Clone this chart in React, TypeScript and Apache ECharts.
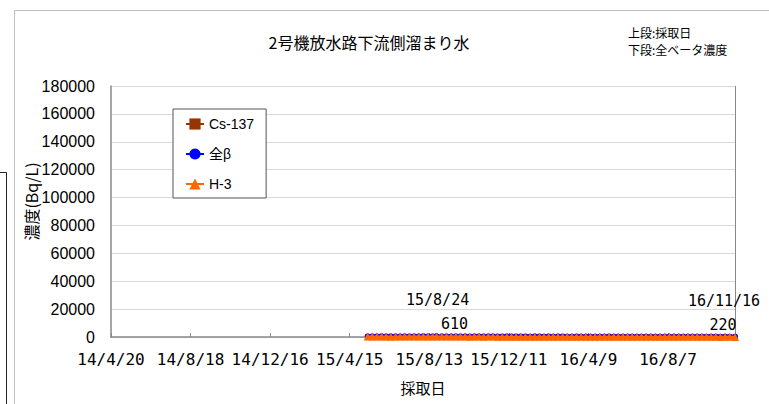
import React, { useEffect, useRef } from "react";
import * as echarts from "echarts";

const ORIGIN = "2014-04-20";
const X_MAX_DATE = "2016-11-16";
const X_INTERVAL_DAYS = 120;
const Y_MAX = 180000;
const Y_INTERVAL = 20000;

const seriesNames = ["Cs-137", "全β", "H-3"];
const seriesColors = ["#993300", "#0000FF", "#FF6600"];

const sampleDates = [
  "2015-05-12", "2015-05-19", "2015-05-26", "2015-06-02", "2015-06-09", "2015-06-16", "2015-06-23", "2015-06-30",
  "2015-07-07", "2015-07-14", "2015-07-21", "2015-07-28", "2015-08-04", "2015-08-11", "2015-08-18", "2015-08-24",
  "2015-09-01", "2015-09-08", "2015-09-15", "2015-09-22", "2015-09-29", "2015-10-06", "2015-10-13", "2015-10-20",
  "2015-10-27", "2015-11-03", "2015-11-10", "2015-11-17", "2015-11-24", "2015-12-01", "2015-12-08", "2015-12-15",
  "2015-12-22", "2015-12-29",
  "2016-01-05", "2016-01-12", "2016-01-19", "2016-01-26", "2016-02-02", "2016-02-09", "2016-02-16", "2016-02-23",
  "2016-03-01", "2016-03-08", "2016-03-15", "2016-03-22", "2016-03-29", "2016-04-05", "2016-04-12", "2016-04-19",
  "2016-04-26", "2016-05-03", "2016-05-10", "2016-05-17", "2016-05-24", "2016-05-31", "2016-06-07", "2016-06-14",
  "2016-06-21", "2016-06-28", "2016-07-05", "2016-07-12", "2016-07-19", "2016-07-26", "2016-08-02", "2016-08-09",
  "2016-08-16", "2016-08-23", "2016-08-30", "2016-09-06", "2016-09-13", "2016-09-20", "2016-09-27", "2016-10-04",
  "2016-10-11", "2016-10-18", "2016-10-25", "2016-11-01", "2016-11-08", "2016-11-16",
];

const cs137Values = [
  90, 110, 85, 120, 100, 75, 95, 130, 105, 115, 80, 125, 140, 135, 110, 150, 120, 95, 85, 100,
  110, 90, 70, 95, 85, 65, 80, 90, 70, 60, 75, 70, 55, 65,
  70, 55, 75, 60, 50, 65, 45, 55, 70, 50, 45, 60, 55, 40, 50, 45, 35, 45, 55, 40,
  35, 50, 45, 30, 40, 45, 35, 30, 40, 35, 30, 35, 28, 32, 38, 30, 25, 33, 28, 24, 30, 26, 22, 28, 25, 20,
];

const betaValues = [
  480, 520, 450, 560, 500, 430, 470, 540, 490, 510, 460, 530, 580, 550, 500, 610, 520, 470, 440, 490,
  510, 460, 420, 480, 450, 400, 430, 470, 410, 390, 440, 420, 380, 400,
  410, 370, 430, 390, 360, 400, 350, 380, 420, 360, 340, 390, 370, 330, 360, 350, 310, 340, 380, 320,
  300, 350, 330, 290, 310, 340, 300, 280, 320, 290, 270, 300, 260, 280, 310, 270, 250, 290, 260, 240,
  270, 250, 230, 260, 240, 220,
];

const h3Values = [
  300, 340, 280, 360, 320, 260, 300, 380, 330, 350, 290, 370, 400, 390, 340, 420, 360, 310, 280, 320,
  340, 300, 260, 310, 280, 250, 270, 300, 240, 230, 260, 250, 220, 240,
  250, 210, 260, 230, 200, 240, 190, 220, 250, 200, 180, 230, 210, 170, 200, 190, 160, 180, 220, 170,
  150, 190, 170, 140, 160, 180, 150, 130, 170, 140, 120, 150, 110, 130, 160, 120, 100, 140, 110, 90,
  120, 100, 80, 110, 90, 70,
];

const annotations = [
  { date: "2015-08-24", value: 610, dateLabel: "15/8/24", dateOffset: [1, -36], valueOffset: [18, -12] },
  { date: "2016-11-16", value: 220, dateLabel: "16/11/16", dateOffset: [-11, -36], valueOffset: [-12, -12] },
];

const noteLines = ["上段:採取日", "下段:全ベータ濃度"];

const DAY = 86400000;
const toUtc = (s: string) => {
  const [y, m, d] = s.split("-").map(Number);
  return Date.UTC(y, m - 1, d);
};
const dayOffset = (s: string) => Math.round((toUtc(s) - toUtc(ORIGIN)) / DAY);
const fmtDay = (v: number) => {
  const dt = new Date(toUtc(ORIGIN) + v * DAY);
  return `${String(dt.getUTCFullYear()).slice(2)}/${dt.getUTCMonth() + 1}/${dt.getUTCDate()}`;
};

const valueSets = [cs137Values, betaValues, h3Values];
const symbols = ["rect", "circle", "triangle"];
const symbolSizes = [5, 6, 8];
const lineWidths = [1.5, 1.5, 2];

export default function App() {
  const ref = useRef<HTMLDivElement>(null);
  useEffect(() => {
    if (!ref.current) return;
    const chart = echarts.init(ref.current, undefined, { renderer: "svg" });
    const series: any[] = seriesNames.map((name, i) => ({
      name,
      type: "line",
      data: sampleDates.map((d, k) => [dayOffset(d), valueSets[i][k]]),
      symbol: symbols[i],
      symbolSize: symbolSizes[i],
      showSymbol: true,
      itemStyle: { color: seriesColors[i] },
      lineStyle: { color: seriesColors[i], width: lineWidths[i] },
      z: 2 + i,
    }));
    series[1].markPoint = {
      symbol: "circle",
      symbolSize: 0,
      data: annotations.flatMap((a) => [
        {
          coord: [dayOffset(a.date), a.value],
          label: {
            show: true,
            formatter: a.dateLabel,
            offset: a.dateOffset,
            color: "#000",
            fontSize: 15,
            fontFamily: "DejaVu Sans Mono",
          },
        },
        {
          coord: [dayOffset(a.date), a.value],
          label: {
            show: true,
            formatter: String(a.value),
            offset: a.valueOffset,
            color: "#000",
            fontSize: 15,
            fontFamily: "DejaVu Sans Mono",
          },
        },
      ]),
    };
    chart.setOption({
      animation: false,
      backgroundColor: "#fff",
      grid: { left: 111, right: 34, top: 86, bottom: 67, containLabel: false },
      legend: {
        orient: "vertical",
        left: 173,
        top: 109,
        padding: [8, 12, 7, 12],
        itemWidth: 18,
        itemHeight: 14,
        itemGap: 16,
        borderColor: "#555",
        borderWidth: 1,
        backgroundColor: "#fff",
        textStyle: { fontSize: 14, color: "#000", fontFamily: "Liberation Sans, Noto Sans CJK JP" },
        data: seriesNames,
      },
      xAxis: {
        type: "value",
        min: 0,
        max: dayOffset(X_MAX_DATE),
        interval: X_INTERVAL_DAYS,
        name: "採取日",
        nameLocation: "middle",
        nameGap: 43,
        nameMoveOverlap: false,
        nameTextStyle: { fontSize: 15, color: "#000", fontFamily: "Noto Sans CJK JP" },
        axisLine: { lineStyle: { color: "#888", width: 1.5 } },
        axisTick: { show: true, inside: true, length: 4, lineStyle: { color: "#888" } },
        splitLine: { show: false },
        axisLabel: {
          formatter: (v: number) => fmtDay(v),
          showMaxLabel: false,
          margin: 14,
          fontSize: 16,
          color: "#000",
          fontFamily: "DejaVu Sans Mono",
        },
      },
      yAxis: {
        type: "value",
        min: 0,
        max: Y_MAX,
        interval: Y_INTERVAL,
        name: "濃度(Bq/L)",
        nameLocation: "middle",
        nameGap: 72,
        nameRotate: 90,
        nameMoveOverlap: false,
        nameTextStyle: { fontSize: 16, color: "#000", fontFamily: "Noto Sans CJK JP", padding: [0, 0, 0, 20] },
        axisLine: { show: true, lineStyle: { color: "#888", width: 1.5 } },
        axisTick: { show: false },
        splitLine: { show: true, lineStyle: { color: "#d9d9d9", width: 1 } },
        axisLabel: {
          formatter: (v: number) => String(v),
          margin: 16,
          fontSize: 16,
          color: "#000",
          fontFamily: "Liberation Sans",
        },
      },
      series,
      graphic: [
        {
          type: "rect",
          shape: { x: 14.5, y: 10.5, width: 800, height: 500 },
          style: { fill: "none", stroke: "#bfbfbf", lineWidth: 1 },
          silent: true,
          z: -10,
        },
        {
          type: "polyline",
          shape: { points: [[0, 172.5], [6.5, 172.5], [6.5, 404]] },
          style: { fill: "none", stroke: "#222", lineWidth: 1 },
          silent: true,
        },
        {
          type: "line",
          shape: { x1: 111, y1: 86.5, x2: 735, y2: 86.5 },
          style: { stroke: "#888", lineWidth: 1 },
          silent: true,
        },
        {
          type: "line",
          shape: { x1: 735.5, y1: 86, x2: 735.5, y2: 337 },
          style: { stroke: "#888", lineWidth: 1 },
          silent: true,
        },
        {
          type: "text",
          x: 369,
          y: 42,
          style: {
            text: "2号機放水路下流側溜まり水",
            fontSize: 16,
            fontFamily: "Noto Sans CJK JP",
            fill: "#000",
            align: "center",
            verticalAlign: "middle",
          },
        },
        ...noteLines.map((t, i) => ({
          type: "text",
          x: 628,
          y: 32 + i * 17,
          style: {
            text: t,
            fontSize: 12,
            fontFamily: "Noto Sans CJK JP",
            fill: "#000",
            align: "left",
            verticalAlign: "middle",
          },
        })),
      ],
    });
    return () => chart.dispose();
  }, []);
  return (
    <div
      ref={ref}
      style={{ position: "absolute", left: 0, top: 0, width: 769, height: 404 }}
    />
  );
}
